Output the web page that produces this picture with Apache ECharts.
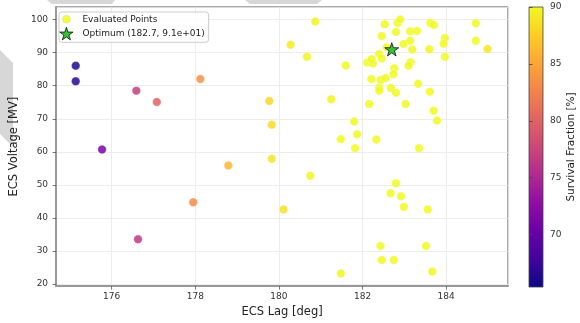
<!DOCTYPE html>
<html>
<head>
<meta charset="utf-8">
<script src="https://cdn.jsdelivr.net/npm/echarts@6/dist/echarts.min.js"></script>
<style>html,body{margin:0;padding:0;background:#fff}#c{width:580px;height:323px}</style>
</head>
<body>
<div id="c"></div>
<script>
// ---- data ----
const lagValues = [
  175.14,175.14,175.77,176.59,176.63,177.08,178.12,177.95,178.79,179.77,
  179.83,179.83,180.11,180.28,180.67,180.87,180.75,181.25,181.48,181.60,
  181.80,181.87,181.82,181.48,182.16,182.33,182.11,182.25,182.22,182.40,
  182.46,182.58,182.46,182.53,182.84,182.90,182.80,183.14,183.30,183.14,
  182.98,183.19,183.60,183.62,183.71,183.97,183.94,183.97,184.71,184.71,
  184.99,182.76,182.74,183.15,183.10,182.21,182.43,182.55,182.40,182.40,
  182.68,182.80,183.33,183.61,183.03,183.70,183.78,183.35,182.80,182.67,
  182.92,182.99,183.56,182.43,183.52,182.46,182.75,183.67
];
const voltageValues = [
  86.05,81.35,60.7,78.5,33.6,75.1,82.0,44.75,55.9,75.4,
  68.2,57.9,42.6,92.4,88.75,99.4,52.8,75.9,63.8,86.1,
  69.2,65.3,61.1,23.2,74.5,63.7,87.05,86.7,88.0,89.6,
  88.25,91.6,95.0,98.55,98.95,100.05,96.25,96.45,96.55,93.6,
  92.6,90.95,91.0,98.95,98.35,94.4,92.7,88.75,98.9,93.6,
  91.1,85.3,83.5,87.1,86.05,82.0,81.7,82.3,79.35,78.45,
  79.3,77.9,80.6,78.15,74.5,72.4,69.5,61.1,50.5,47.5,
  46.6,43.3,42.6,31.5,31.5,27.3,27.3,23.8
];
const survivalValues = [
  66.3,66.6,71.2,77.0,76.3,80.0,83.6,83.0,86.0,88.0,
  88.2,88.8,88.5,89.2,89.8,89.6,89.7,89.8,90,90,
  90,90,90,89.9,90,90,90,90,90,90,
  90,90,90,90,90,90,90,90,90,90,
  90,89.7,89.8,90,90,90,90,90,90,90,
  89.0,90,90,90,90,90,90,90,90,90,
  90,90,90,90,90,90,90,90,90,90,
  90,90,90,90,90,90,90,90
];
const optimumLag = 182.7;
const optimumVoltage = 91.0;
const optimumLabel = 'Optimum (182.7, 9.1e+01)';
const pointsLabel = 'Evaluated Points';
const lagTicks = [176, 178, 180, 182, 184];
const voltageTicks = [20, 30, 40, 50, 60, 70, 80, 90, 100];
const survivalTicks = [70, 75, 80, 85, 90];
const survivalRange = [65.4, 90];

// plasma colormap
const plasma = ['#0d0887','#41049d','#6a00a8','#8f0da4','#b12a90','#cc4778','#e16462','#f2844b','#fca636','#fcce25','#f0f921'];

const FONT = 'DejaVu Sans';
const starPath = 'path://M10,0L12.245,6.910L19.511,6.910L13.633,11.180L15.878,18.090L10,13.820L4.122,18.090L6.367,11.180L0.489,6.910L7.755,6.910Z';
const circleIcon = 'path://M0,0M14,14M3,7A4,4,0,1,1,11,7A4,4,0,1,1,3,7Z';
const starIcon = 'path://M0,-0.5M20,19.5M10,0L12.245,6.910L19.511,6.910L13.633,11.180L15.878,18.090L10,13.820L4.122,18.090L6.367,11.180L0.489,6.910L7.755,6.910Z';

const points = lagValues.map((x, i) => [x, voltageValues[i], survivalValues[i]]);

const chart = echarts.init(document.getElementById('c'), null, {renderer: 'canvas'});

const tickSetFormatter = (ticks) => (v) => ticks.some(t => Math.abs(t - v) < 1e-6) ? String(Math.round(v)) : '';

chart.setOption({
  animation: false,
  backgroundColor: '#ffffff',
  textStyle: {fontFamily: FONT},
  graphic: [
    {type: 'polygon', z: -10, shape: {points: [[47,0],[115,0],[112,4],[52,4]]}, style: {fill: '#d7d7d7'}},
    {type: 'polygon', z: -10, shape: {points: [[245,0],[322,0],[317,4],[250,4]]}, style: {fill: '#d7d7d7'}},
    {type: 'polygon', z: -10, shape: {points: [[0,50],[13,63],[13,147],[0,134]]}, style: {fill: '#d7d7d7'}}
  ],
  grid: [
    {left: 54, top: 7, width: 454, height: 280, show: true, borderColor: '#555', borderWidth: 1, backgroundColor: 'transparent'},
    {left: 529, top: 7, width: 14, height: 280, show: true, borderColor: '#444', borderWidth: 0.8,
     backgroundColor: {type: 'linear', x: 0, y: 1, x2: 0, y2: 0,
       colorStops: plasma.map((c, i) => ({offset: i / (plasma.length - 1), color: c}))}}
  ],
  xAxis: [
    {type: 'value', gridIndex: 0, min: 174.67, max: 185.48, splitNumber: 5, minInterval: 2, maxInterval: 2,
     name: 'ECS Lag [deg]', nameLocation: 'middle', nameGap: 18,
     nameTextStyle: {fontSize: 11.5, color: '#222', fontFamily: FONT},
     axisLine: {show: true, onZero: false, lineStyle: {color: '#999', width: 2}},
     axisTick: {show: true, length: 3.5, lineStyle: {color: '#555', width: 0.8}},
     axisLabel: {fontSize: 9, color: '#333', margin: 6, showMinLabel: false, showMaxLabel: false, formatter: tickSetFormatter(lagTicks)},
     splitLine: {show: true, lineStyle: {color: '#e8e8e8', width: 0.8}}},
    {type: 'value', gridIndex: 1, min: 0, max: 1, show: false}
  ],
  yAxis: [
    {type: 'value', gridIndex: 0, min: 19.4, max: 103.8, splitNumber: 8, minInterval: 10, maxInterval: 10,
     name: 'ECS Voltage [MV]', nameLocation: 'middle', nameGap: 29,
     nameTextStyle: {fontSize: 11.5, color: '#222', fontFamily: FONT},
     axisLine: {show: true, onZero: false, lineStyle: {color: '#999', width: 2}},
     axisTick: {show: true, length: 3.5, lineStyle: {color: '#555', width: 0.8}},
     axisLabel: {fontSize: 9, color: '#333', margin: 8, showMinLabel: false, showMaxLabel: false, formatter: tickSetFormatter(voltageTicks)},
     splitLine: {show: true, lineStyle: {color: '#e8e8e8', width: 0.8}}},
    {type: 'value', gridIndex: 1, position: 'right', min: survivalRange[0], max: survivalRange[1],
     splitNumber: 5, minInterval: 5, maxInterval: 5,
     name: 'Survival Fraction [%]', nameLocation: 'middle', nameGap: 18, nameRotate: 90,
     nameTextStyle: {fontSize: 10.5, color: '#222', fontFamily: FONT},
     axisLine: {show: false},
     axisTick: {show: true, length: 3.5, lineStyle: {color: '#444', width: 0.8}},
     axisLabel: {fontSize: 9, color: '#333', margin: 7, showMinLabel: false, formatter: tickSetFormatter(survivalTicks)},
     splitLine: {show: false}}
  ],
  visualMap: {
    type: 'continuous', show: false, seriesIndex: 0, dimension: 2,
    min: survivalRange[0], max: survivalRange[1],
    inRange: {color: plasma}
  },
  legend: {
    left: 59, top: 12, orient: 'vertical', selectedMode: false,
    itemWidth: 22, itemHeight: 14, itemGap: 0,
    padding: [0, 4, 1, 0],
    backgroundColor: 'rgba(255,255,255,0.85)', borderColor: '#cccccc', borderWidth: 1, borderRadius: 3,
    textStyle: {fontSize: 9, color: '#222', fontFamily: FONT},
    data: [
      {name: pointsLabel, icon: circleIcon, itemStyle: {color: '#f0f921', opacity: 0.85, borderColor: 'rgba(210,210,160,0.8)', borderWidth: 0.5}},
      {name: optimumLabel, icon: starIcon, itemStyle: {color: '#36c236', borderColor: '#111', borderWidth: 0.8}}
    ]
  },
  series: [
    {name: pointsLabel, type: 'scatter', xAxisIndex: 0, yAxisIndex: 0,
     symbol: 'circle', symbolSize: 8.5,
     itemStyle: {color: '#f0f921', opacity: 0.85, borderColor: 'rgba(255,255,255,0.7)', borderWidth: 0.5},
     data: points, z: 2},
    {name: optimumLabel, type: 'scatter', xAxisIndex: 0, yAxisIndex: 0,
     symbol: starPath, symbolSize: 14, symbolKeepAspect: true,
     itemStyle: {color: '#36c236', borderColor: '#111', borderWidth: 0.8, opacity: 1},
     data: [[optimumLag, optimumVoltage]], z: 3}
  ]
});
</script>
</body>
</html>
